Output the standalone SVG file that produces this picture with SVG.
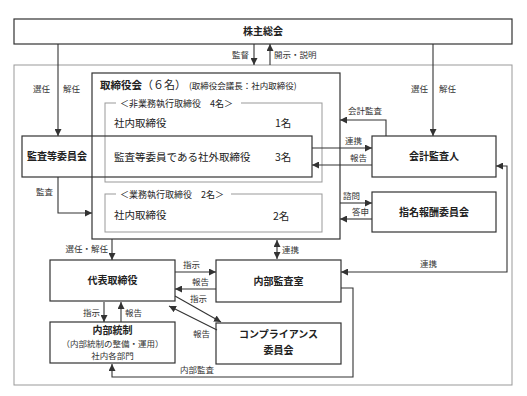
<svg xmlns="http://www.w3.org/2000/svg" width="527" height="396" viewBox="0 0 527 396">
<style>
text{font-family:"Noto Sans CJK JP","Liberation Sans",sans-serif;fill:#222}
.b{font-weight:bold;font-size:10px}
.t{font-size:10.5px}
.l{font-size:8.5px;fill:#333}
.m{text-anchor:middle}
.e{text-anchor:end}
.box{fill:none;stroke:#333;stroke-width:1.2}
.gbox{fill:none;stroke:#999;stroke-width:1}
.c{fill:none;stroke:#333;stroke-width:1.1}
.a{marker-end:url(#ah)}
.s{marker-start:url(#ah)}
</style>
<defs>
<marker id="ah" viewBox="0 0 10 10" refX="10" refY="5" markerWidth="7" markerHeight="7" markerUnits="userSpaceOnUse" orient="auto-start-reverse"><path d="M0,0 L10,5 L0,10 z" fill="#333"/></marker>
</defs>
<rect width="527" height="396" fill="#fff"/>
<rect x="14" y="65" width="498" height="320" class="gbox"/>

<g id="shareholders"><rect x="14" y="19" width="498" height="25" class="box"/><text x="263" y="35" class="b m">株主総会</text></g>

<g id="board">
<rect x="92" y="73" width="248" height="166" class="box"/>
<text x="100" y="89"><tspan class="b" style="font-size:10.5px">取締役会</tspan><tspan style="font-size:11px">（６名）</tspan><tspan dx="3" style="font-size:8.5px">(取締役会議長：社内取締役)</tspan></text>
</g>
<g id="nonexec">
<rect x="105" y="103" width="217" height="79" class="gbox"/>
<rect x="116" y="98" width="125" height="10" fill="#fff"/>
<text x="120" y="106.5" style="font-size:9px">＜非業務執行取締役　4名＞</text>
<text x="114" y="127" class="t">社内取締役</text><text x="275" y="127" class="t">1名</text>
</g>
<g id="auditcommittee">
<rect x="22" y="136" width="290" height="41" class="box"/>
<text x="27" y="160" class="b">監査等委員会</text>
<text x="114" y="161" class="t">監査等委員である社外取締役</text><text x="275" y="161" class="t">3名</text>
</g>
<g id="exec">
<rect x="105" y="194" width="217" height="38" class="gbox"/>
<rect x="116" y="189" width="115" height="10" fill="#fff"/>
<text x="120" y="197.5" style="font-size:9px">＜業務執行取締役　2名＞</text>
<text x="114" y="219" class="t">社内取締役</text><text x="273" y="220" class="t">2名</text>
</g>
<g id="accountant"><rect x="372" y="136" width="124" height="41" class="box"/><text x="434" y="160" class="b m">会計監査人</text></g>
<g id="nomination"><rect x="372" y="192" width="124" height="40" class="box"/><text x="434" y="216" class="b m">指名報酬委員会</text></g>
<g id="ceo"><rect x="50" y="260" width="125" height="41" class="box"/><text x="112.5" y="284" class="b m">代表取締役</text></g>
<g id="internalaudit"><rect x="216" y="260" width="125" height="42" class="box"/><text x="278.5" y="285" class="b m">内部監査室</text></g>
<g id="internalcontrol"><rect x="50" y="322" width="125" height="41" class="box"/>
<text x="112.5" y="334" class="b m">内部統制</text>
<text x="112.5" y="347" class="l m">（内部統制の整備・運用）</text>
<text x="112.5" y="359" class="l m">社内各部門</text></g>
<g id="compliance"><rect x="216" y="323" width="125" height="41" class="box"/>
<text x="278.5" y="338" class="b m">コンプライアンス</text>
<text x="278.5" y="354" class="b m">委員会</text></g>

<g id="connectors">
<path d="M58,44 V136" class="c a"/>
<path d="M433,44 V136" class="c a"/>
<path d="M254,44 V65" class="c a"/>
<path d="M270,65 V44" class="c a"/>
<path d="M386,136 V120 H340" class="c a"/>
<path d="M312,148 H372" class="c a"/>
<path d="M372,165 H312" class="c a"/>
<path d="M496,166 H507 V272 H341" class="c a s"/>
<path d="M340,203 H372" class="c a"/>
<path d="M372,219 H340" class="c a"/>
<path d="M58,177 V213 H92" class="c a"/>
<path d="M112,239 V260" class="c a"/>
<path d="M277,240 V259" class="c a s"/>
<path d="M175,272 H216" class="c a"/>
<path d="M216,289 H175" class="c a"/>
<path d="M175,296 L221,322" class="c a"/>
<path d="M217,330 L169,306" class="c a"/>
<path d="M104,302 V322" class="c a"/>
<path d="M121,322 V302" class="c a"/>
<path d="M341,288 H353 V377 H112 V364" class="c a"/>
</g>
<g id="labels">
<text x="249" y="58" class="l e">監督</text>
<text x="274" y="58" class="l">開示・説明</text>
<text x="50" y="92" class="l e">選任</text>
<text x="63" y="92" class="l">解任</text>
<text x="428" y="92" class="l e">選任</text>
<text x="439" y="92" class="l">解任</text>
<text x="348" y="114" class="l">会計監査</text>
<text x="345" y="144" class="l">連携</text>
<text x="350" y="161" class="l">報告</text>
<text x="420" y="267" class="l">連携</text>
<text x="343" y="199" class="l">諮問</text>
<text x="352" y="215" class="l">答申</text>
<text x="36" y="195" class="l">監査</text>
<text x="108" y="252" class="l e">選任・解任</text>
<text x="282" y="253" class="l">連携</text>
<text x="183" y="268" class="l">指示</text>
<text x="192" y="285" class="l">報告</text>
<text x="190" y="302" class="l">指示</text>
<text x="193" y="337" class="l">報告</text>
<text x="100" y="316" class="l e">指示</text>
<text x="125" y="316" class="l">報告</text>
<text x="180" y="373" class="l">内部監査</text>
</g>
</svg>
